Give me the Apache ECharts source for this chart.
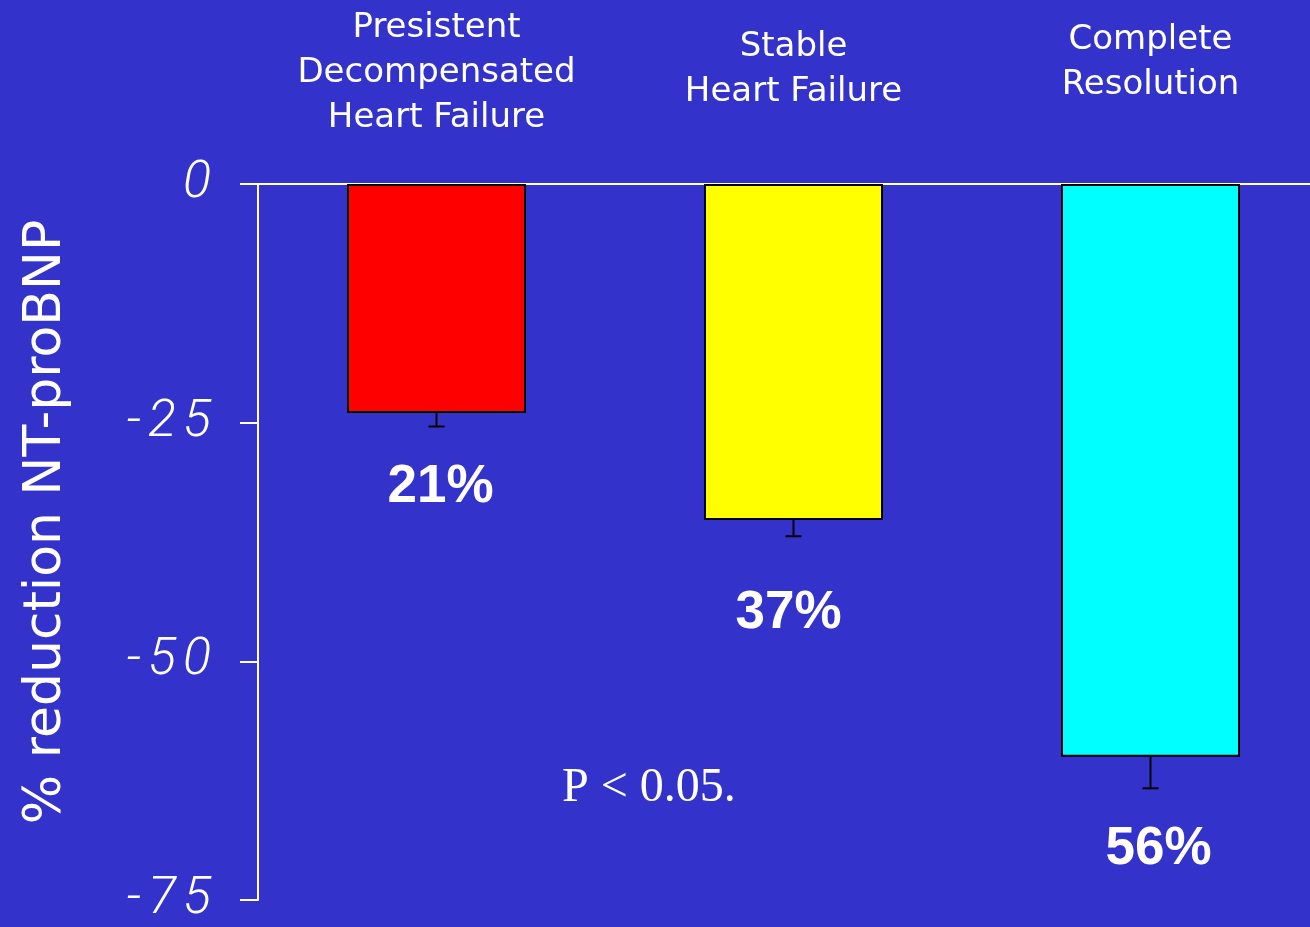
<!DOCTYPE html>
<html>
<head>
<meta charset="utf-8">
<script src="https://cdn.jsdelivr.net/npm/echarts@6/dist/echarts.min.js"></script>
<style>
  html, body { margin: 0; padding: 0; background: #3333cc; overflow: hidden; }
  #chart { width: 1329px; height: 927px; }
</style>
</head>
<body>
<div id="chart"></div>
<script>
// Groups along the top axis
const categories = ['Presistent\nDecompensated\nHeart Failure', 'Stable\nHeart Failure', 'Complete\nResolution'];
// Mean change in NT-proBNP (%), with the standard error drawn below each bar
const meanChange = [-24, -35.2, -60];
const stdError = [1.4, 1.7, 3.3];
// Reduction stated under each bar
const reductionLabels = ['21%', '37%', '56%'];
const barColors = ['#ff0000', '#ffff00', '#00ffff'];
// Y axis range and step
const yMin = -75, yMax = 0, yStep = 25;

// Per-group layout tweaks (title offsets from axis, label spacing under the bar)
const titleMargin = [43, 69, 76];
const labelDistance = [34, 51, 35];
const labelShiftX = [4, -5, 8];

const chart = echarts.init(document.getElementById('chart'));

// Spread the tick digits apart: each character gets its own padded rich segment
const spaced = (v) => String(v).split('').map((ch) => '{c|' + ch + '}').join('');

const option = {
  backgroundColor: '#3333cc',
  animation: false,
  grid: { left: 258, top: 184, width: 1071, height: 716 },
  xAxis: {
    type: 'category',
    position: 'top',
    data: categories.map((c, i) => ({
      value: c,
      textStyle: { padding: [0, 0, titleMargin[i] - titleMargin[0], 0] }
    })),
    axisLine: { onZero: true, lineStyle: { color: '#ffffff', width: 2 } },
    axisTick: { show: false },
    axisLabel: {
      color: '#ffffff',
      fontFamily: 'DejaVu Sans',
      fontSize: 34,
      lineHeight: 45,
      margin: titleMargin[0],
      interval: 0,
      verticalAlign: 'bottom'
    }
  },
  yAxis: {
    type: 'value',
    min: yMin,
    max: yMax,
    interval: yStep,
    splitLine: { show: false },
    axisLine: { show: true, lineStyle: { color: '#ffffff', width: 2 } },
    axisTick: { show: true, length: 18, lineStyle: { color: '#ffffff', width: 2 } },
    axisLabel: {
      color: '#ffffff',
      margin: 43,
      formatter: spaced,
      rich: {
        c: {
          color: '#ffffff',
          fontFamily: 'Roboto',
          fontWeight: 300,
          fontStyle: 'italic',
          fontSize: 52,
          padding: [0, 4, 0, 3]
        }
      }
    },
    name: '% reduction NT-proBNP',
    nameLocation: 'middle',
    nameRotate: 90,
    nameGap: 186,
    nameTextStyle: {
      color: '#ffffff',
      fontFamily: 'DejaVu Sans',
      fontSize: 52,
      padding: [0, 0, 0, 40]
    }
  },
  series: [
    {
      type: 'bar',
      barWidth: 179,
      data: meanChange.map((v, i) => ({
        value: v,
        itemStyle: { color: barColors[i] },
        label: {
          distance: labelDistance[i] + stdError[i] * 9.55,
          offset: [labelShiftX[i], 0]
        }
      })),
      itemStyle: { borderColor: '#000000', borderWidth: 2 },
      label: {
        show: true,
        position: 'bottom',
        formatter: (p) => reductionLabels[p.dataIndex],
        color: '#ffffff',
        fontFamily: 'Liberation Sans',
        fontWeight: 'bold',
        fontSize: 53,
        textShadowColor: '#000000',
        textShadowOffsetX: 2,
        textShadowOffsetY: 2,
        textShadowBlur: 0
      },
      z: 2
    },
    {
      // Standard-error whiskers hanging below each bar
      type: 'custom',
      data: meanChange.map((v, i) => [i, v, v - stdError[i]]),
      renderItem: (params, api) => {
        const top = api.coord([api.value(0), api.value(1)]);
        const end = api.coord([api.value(0), api.value(2)]);
        const cap = 8;
        const style = { stroke: '#000000', lineWidth: 2 };
        return {
          type: 'group',
          children: [
            { type: 'line', shape: { x1: top[0], y1: top[1], x2: end[0], y2: end[1] }, style },
            { type: 'line', shape: { x1: end[0] - cap, y1: end[1], x2: end[0] + cap, y2: end[1] }, style }
          ]
        };
      },
      z: 3
    }
  ],
  graphic: [
    {
      type: 'text',
      left: 562,
      top: 764,
      style: {
        text: 'P < 0.05.',
        fill: '#ffffff',
        font: '48px "Liberation Serif"'
      }
    }
  ]
};

chart.setOption(option);
</script>
</body>
</html>
